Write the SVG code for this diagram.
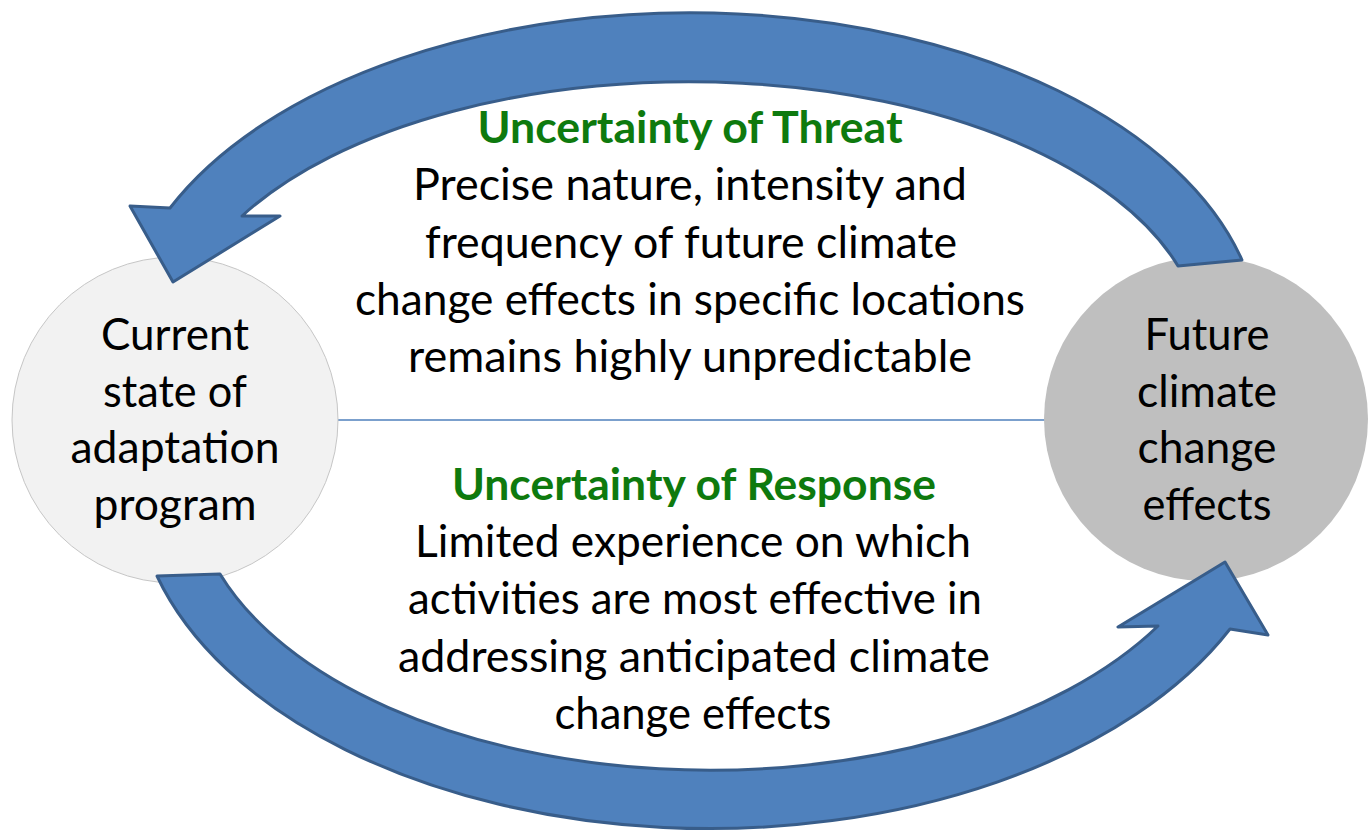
<svg xmlns="http://www.w3.org/2000/svg" width="1368" height="835" viewBox="0 0 1368 835">
<style>
.t{font-family:Lato,"Open Sans","Liberation Sans",sans-serif;font-size:44px;fill:#000;text-anchor:middle}
.h{font-family:Lato,"Open Sans","Liberation Sans",sans-serif;font-size:44px;font-weight:bold;fill:#0e7a0e;text-anchor:middle}
.arrow{fill:#4f81bd;stroke:#385d8a;stroke-width:3;stroke-linejoin:round}
</style>
<rect width="1368" height="835" fill="#fff"/>
<g id="divider"><line x1="338" y1="420" x2="1046" y2="420" stroke="#4f81bd" stroke-width="1.5"/></g>
<g id="node-current">
<circle cx="175" cy="420" r="163" fill="#f2f2f2" stroke="#c6c6c6" stroke-width="1"/>
<text class="t" x="175" y="350" textLength="148" lengthAdjust="spacingAndGlyphs">Current</text>
<text class="t" x="175" y="407" textLength="144" lengthAdjust="spacingAndGlyphs">state of</text>
<text class="t" x="175" y="463" textLength="209" lengthAdjust="spacingAndGlyphs">adaptation</text>
<text class="t" x="175" y="520" textLength="163" lengthAdjust="spacingAndGlyphs">program</text>
</g>
<g id="node-future">
<circle cx="1206" cy="419" r="162" fill="#bfbfbf"/>
<text class="t" x="1207" y="350" textLength="125" lengthAdjust="spacingAndGlyphs">Future</text>
<text class="t" x="1207" y="407" textLength="140" lengthAdjust="spacingAndGlyphs">climate</text>
<text class="t" x="1207" y="463" textLength="139" lengthAdjust="spacingAndGlyphs">change</text>
<text class="t" x="1207" y="520" textLength="129" lengthAdjust="spacingAndGlyphs">effects</text>
</g>
<g id="connectors">
<path id="arrow-threat" class="arrow" d="M1242,260 A570,330 0 0 0 170,208 L130,206 L173,282 L280,216 L242,216 A512,262 0 0 1 1178,266 Z"/>
<path id="arrow-response" class="arrow" d="M157,576 A575,348 0 0 0 1230,629 L1268,635 L1225,562 L1118,627 L1158,626 A518,290 0 0 1 220,574 Z"/>
</g>
<g id="threat-text">
<text class="h" x="690" y="143" textLength="425" lengthAdjust="spacingAndGlyphs">Uncertainty of Threat</text>
<text class="t" x="690" y="200" textLength="554" lengthAdjust="spacingAndGlyphs">Precise nature, intensity and</text>
<text class="t" x="691" y="258" textLength="532" lengthAdjust="spacingAndGlyphs">frequency of future climate</text>
<text class="t" x="690" y="315" textLength="670" lengthAdjust="spacingAndGlyphs">change effects in specific locations</text>
<text class="t" x="690" y="372" textLength="564" lengthAdjust="spacingAndGlyphs">remains highly unpredictable</text>
</g>
<g id="response-text">
<text class="h" x="694" y="500" textLength="484" lengthAdjust="spacingAndGlyphs">Uncertainty of Response</text>
<text class="t" x="693" y="557" textLength="556" lengthAdjust="spacingAndGlyphs">Limited experience on which</text>
<text class="t" x="695" y="614" textLength="574" lengthAdjust="spacingAndGlyphs">activities are most effective in</text>
<text class="t" x="694" y="672" textLength="592" lengthAdjust="spacingAndGlyphs">addressing anticipated climate</text>
<text class="t" x="693" y="729" textLength="277" lengthAdjust="spacingAndGlyphs">change effects</text>
</g>
</svg>
